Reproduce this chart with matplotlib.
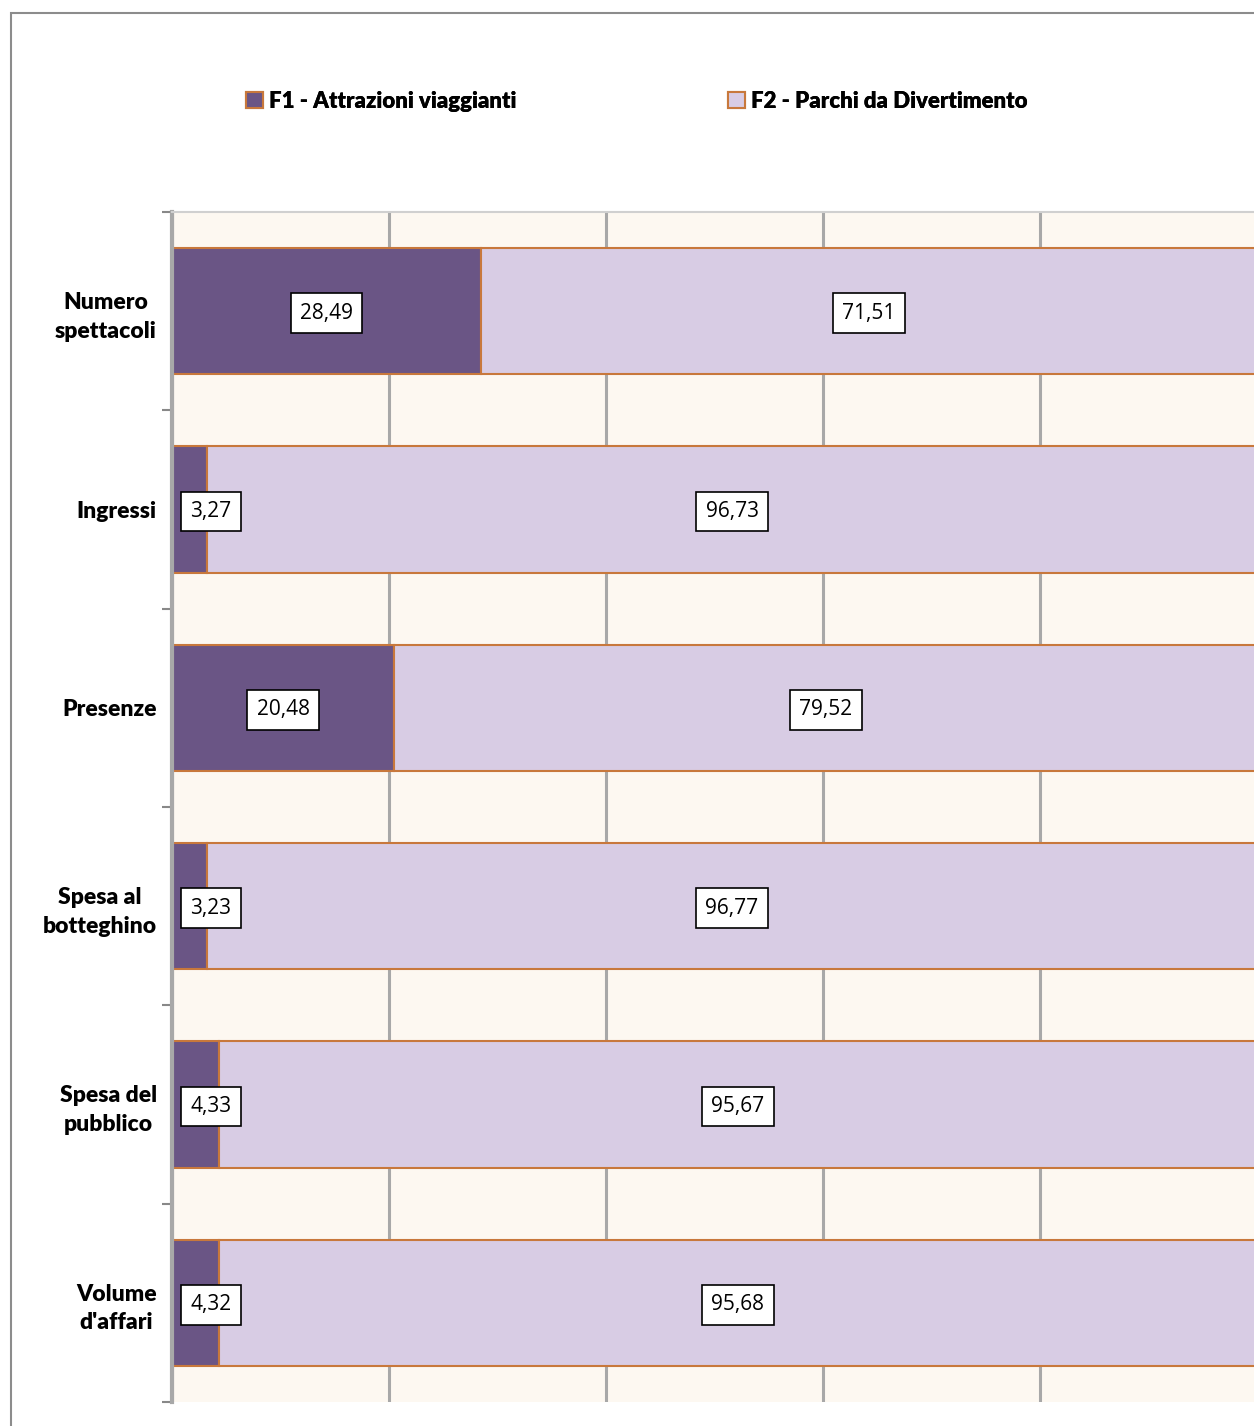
import numpy as np
import matplotlib.pyplot as plt
from matplotlib.patches import Rectangle, Patch

categories = ['Numero\nspettacoli', 'Ingressi', 'Presenze', 'Spesa al\nbotteghino', 'Spesa del\npubblico', "Volume\nd'affari"]
f1 = [28.49, 3.27, 20.48, 3.23, 4.33, 4.32]
f2 = [71.51, 96.73, 79.52, 96.77, 95.67, 95.68]
series_names = ['F1 - Attrazioni viaggianti', 'F2 - Parchi da Divertimento']

c_f1 = '#6A5585'; c_f2 = '#D8CCE4'; c_edge = '#C8783C'
bold_font = ['Lato', 'DejaVu Sans']

fig = plt.figure(figsize=(12.54, 14.26), dpi=100)
ax = fig.add_axes([172/1254, 1-1402/1426, 1085/1254, (1402-212)/1426])
ax.set_facecolor('#FDF8F1')

y = np.arange(len(categories))
for gx in [0, 20, 40, 60, 80, 100]:
    ax.axvline(gx, color='#A8A8A8', lw=2.2, zorder=1)
ax.barh(y, f1, height=0.636, color=c_f1, edgecolor=c_edge, lw=1.5, zorder=2)
ax.barh(y, f2, left=f1, height=0.636, color=c_f2, edgecolor=c_edge, lw=1.5, zorder=2)

box = dict(boxstyle='square,pad=0.45', fc='white', ec='black', lw=1.2)
for i in range(len(categories)):
    ax.text(max(f1[i]/2, 3.6), y[i] + 0.01, f'{f1[i]:.2f}'.replace('.', ','), ha='center', va='center',
            fontsize=15, family='Open Sans', bbox=box, zorder=4)
    ax.text(f1[i] + f2[i]/2, y[i] + 0.01, f'{f2[i]:.2f}'.replace('.', ','), ha='center', va='center',
            fontsize=15, family='Open Sans', bbox=box, zorder=4)

ax.set_xlim(0, 100); ax.set_ylim(len(categories)-0.5, -0.5)
ax.set_yticks(y); ax.set_yticklabels(categories, fontsize=16.5, fontweight='heavy', family=bold_font,
                                      ha='right', multialignment='center', linespacing=1.45)
ax.set_yticks(np.arange(len(categories)+1)-0.5, minor=True)
ax.tick_params(axis='y', which='major', length=0, pad=11)
ax.tick_params(axis='y', which='minor', length=7, color='#888888', width=1.5)
ax.set_xticks([])
for s in ['right', 'bottom']:
    ax.spines[s].set_visible(False)
ax.spines['top'].set_color('#D0D0D0'); ax.spines['top'].set_linewidth(1.5)
ax.spines['left'].set_color('#A8A8A8'); ax.spines['left'].set_linewidth(3)

for k, (col, name) in enumerate(zip([c_f1, c_f2], series_names)):
    lg = fig.legend([Patch(fc=col, ec=c_edge, lw=1.5)], [name], loc='center left',
                    bbox_to_anchor=([246, 728][k]/1254, 1-101/1426), frameon=False, borderpad=0, borderaxespad=0,
                    handlelength=0.75, handleheight=0.75, handletextpad=0.3,
                    prop={'family': bold_font, 'weight': 'heavy', 'size': 16})
    fig.add_artist(lg)

fig.patches.append(Rectangle((11/1254, -0.1), 1.2, 1-13/1426+0.1, transform=fig.transFigure,
                             fill=False, ec='#8C8C8C', lw=1.5))
fig.savefig('out.png', dpi=100)
